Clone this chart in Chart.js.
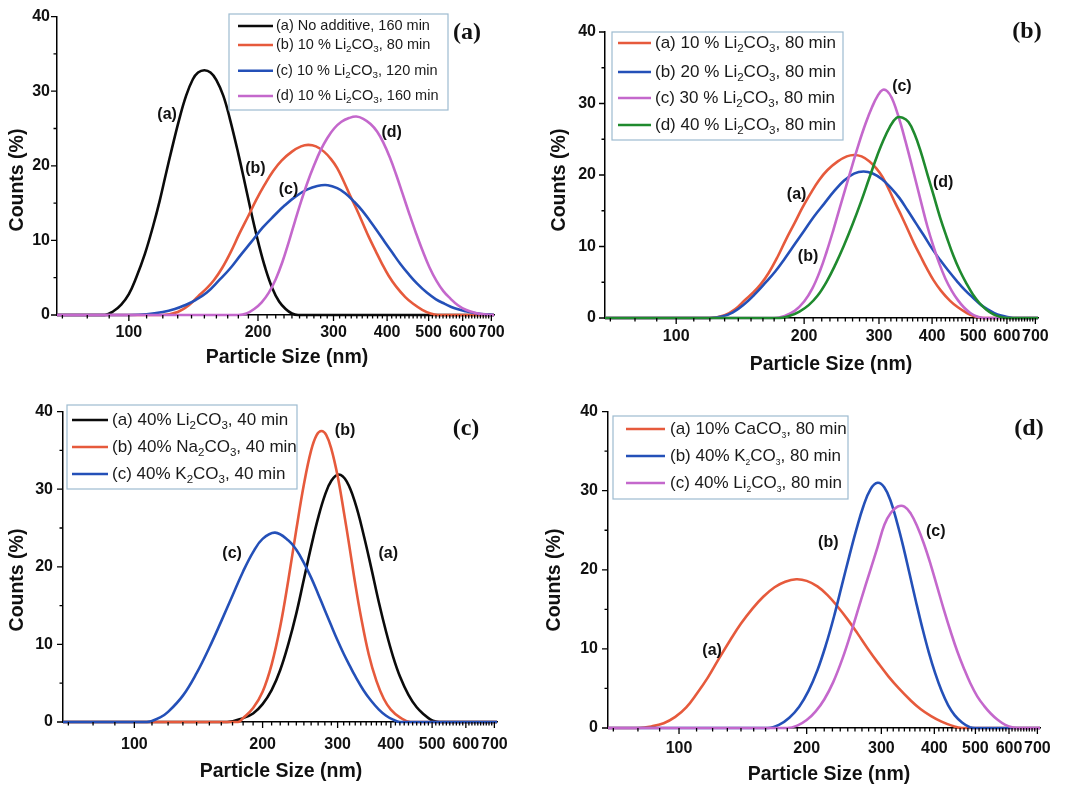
<!DOCTYPE html>
<html>
<head>
<meta charset="utf-8">
<script src="https://cdn.jsdelivr.net/npm/chart.js@4.4.1/dist/chart.umd.min.js"></script>
<style>
html, body { margin: 0; padding: 0; background: #fff; overflow: hidden; }
#wrap { position: relative; width: 1066px; height: 785px; overflow: hidden; }
.panel { position: absolute; }
</style>
</head>
<body>
<div id="wrap">
  <div class="panel" style="left:0;top:0"><canvas id="pa" width="533" height="392"></canvas></div>
  <div class="panel" style="left:533px;top:0"><canvas id="pb" width="533" height="392"></canvas></div>
  <div class="panel" style="left:0;top:392px"><canvas id="pc" width="533" height="400"></canvas></div>
  <div class="panel" style="left:533px;top:392px"><canvas id="pd" width="533" height="400"></canvas></div>
</div>
<script>
// axis ticks
const sizeTicks = [100, 200, 300, 400, 500, 600, 700]
const countTicks = [0, 10, 20, 30, 40]
const countMinor = [5, 15, 25, 35]

// panel (a) curves, [size nm, counts %]
const noAdd160 = [[68,0],[88,0],[92,0.5],[96,1.4],[100,2.8],[104,5.0],[109,8.2],[114,12.0],[118,15.3],[122,18.9],[126,22.3],[131,26.2],[136,29.4],[141,31.6],[145,32.5],[150,32.8],[155,32.5],[160,31.5],[166,29.4],[172,26.3],[180,21.6],[187,17.3],[194,13.1],[201,9.4],[208,6.3],[216,3.6],[224,1.8],[232,0.8],[240,0.2],[248,0],[710,0]]
const li10_80 = [[68,0],[120,0],[130,0.4],[138,1.3],[145,2.5],[152,3.6],[158,4.7],[165,6.3],[173,8.5],[181,10.9],[190,13.3],[198,15.4],[207,17.4],[217,19.3],[227,20.7],[240,21.9],[252,22.6],[262,22.8],[273,22.6],[285,21.9],[296,20.9],[306,19.7],[317,17.9],[328,16.0],[340,14.1],[351,12.3],[363,10.4],[376,8.6],[389,6.9],[403,5.3],[420,3.8],[441,2.4],[460,1.5],[483,0.7],[505,0.2],[525,0],[710,0]]
const li10_120 = [[68,0],[100,0],[110,0.1],[120,0.4],[128,0.8],[135,1.3],[143,2.0],[152,3.0],[162,4.6],[172,6.2],[182,8.0],[193,9.8],[205,11.7],[218,13.3],[231,14.7],[245,15.9],[260,16.8],[275,17.3],[291,17.4],[306,17.0],[320,16.3],[335,15.2],[350,14.0],[365,12.6],[380,11.2],[395,9.8],[412,8.3],[430,6.8],[450,5.4],[470,4.2],[495,3.0],[520,2.1],[545,1.5],[575,0.9],[610,0.5],[650,0.2],[690,0.05],[710,0]]
const li10_160 = [[68,0],[180,0],[188,0.2],[196,0.8],[204,1.7],[212,3.0],[220,4.8],[228,7.1],[236,9.8],[244,12.6],[252,15.2],[261,17.8],[270,20.0],[280,22.1],[290,23.7],[301,25.0],[313,25.9],[326,26.4],[339,26.6],[352,26.3],[366,25.6],[379,24.6],[392,23.1],[406,21.1],[420,18.8],[435,16.2],[451,13.5],[467,11.0],[484,8.6],[502,6.4],[521,4.6],[541,3.2],[562,2.2],[585,1.3],[610,0.7],[640,0.3],[670,0.1],[700,0],[710,0]]

// panel (b) curves
const li20_80 = [[68,0],[120,0],[128,0.2],[136,0.8],[145,2.0],[153,3.3],[162,4.9],[171,6.5],[180,8.3],[190,10.3],[200,12.2],[211,14.2],[223,16.0],[235,17.7],[248,19.2],[262,20.2],[276,20.5],[290,20.2],[305,19.4],[320,18.2],[335,16.8],[350,15.1],[366,13.3],[382,11.6],[400,9.7],[418,8.1],[437,6.6],[457,5.2],[478,3.9],[500,2.8],[522,1.8],[545,1.1],[570,0.5],[595,0.2],[620,0],[710,0]]
const li30_80 = [[68,0],[170,0],[180,0.3],[190,1.0],[200,2.3],[209,4.1],[218,6.6],[226,9.3],[234,12.2],[242,15.2],[251,18.4],[260,21.5],[269,24.4],[279,27.2],[289,29.5],[298,31.1],[306,31.9],[314,31.7],[322,30.7],[330,29.0],[338,27.0],[346,24.8],[356,22.0],[366,19.2],[378,15.9],[390,12.8],[403,10.0],[416,7.6],[430,5.5],[445,3.8],[460,2.5],[475,1.5],[492,0.7],[510,0.2],[530,0],[710,0]]
const li40_80 = [[68,0],[175,0],[185,0.3],[195,0.9],[205,1.8],[215,3.1],[226,5.1],[237,7.5],[248,10.1],[260,13.1],[272,16.2],[284,19.4],[295,22.2],[306,24.6],[318,26.7],[330,28.0],[341,28.0],[352,27.4],[364,25.7],[376,23.3],[390,20.1],[404,17.0],[418,14.0],[433,11.3],[449,8.7],[465,6.6],[482,4.8],[499,3.3],[517,2.1],[536,1.2],[558,0.5],[580,0.15],[600,0],[710,0]]

// panel (c) curves
const li40_40 = [[68,0],[165,0],[180,0.5],[190,1.1],[200,2.3],[210,4.1],[220,6.7],[230,10.1],[240,14.0],[250,18.4],[260,22.6],[270,26.3],[280,29.2],[290,31.1],[302,31.9],[315,31.0],[330,28.2],[345,24.2],[360,19.8],[375,15.4],[390,11.6],[405,8.4],[420,5.9],[440,3.5],[460,1.9],[480,0.9],[495,0.35],[510,0.05],[520,0],[710,0]]
const na40_40 = [[68,0],[175,0],[180,0.5],[190,1.8],[200,3.9],[210,7.4],[220,12.3],[230,18.4],[240,24.8],[250,30.6],[260,35.0],[268,37.0],[275,37.5],[282,37.0],[290,35.2],[300,31.7],[310,27.2],[320,22.5],[330,17.8],[340,13.7],[355,8.7],[370,5.3],[385,3.0],[400,1.6],[420,0.6],[445,0],[710,0]]
const k40_40 = [[68,0],[107,0],[115,0.6],[120,1.3],[130,3.4],[140,6.3],[150,9.6],[160,13.0],[170,16.3],[180,19.4],[190,21.9],[200,23.6],[214,24.4],[230,23.4],[240,22.2],[250,20.5],[260,18.6],[270,16.5],[280,14.4],[290,12.4],[300,10.5],[310,8.8],[320,7.3],[330,5.9],[345,4.1],[360,2.7],[375,1.6],[390,0.8],[405,0.3],[420,0],[710,0]]

// panel (d) curves
const ca10_80 = [[68,0],[80,0],[86,0.2],[92,0.6],[98,1.4],[104,2.6],[110,4.3],[117,6.4],[124,8.7],[132,11.1],[140,13.2],[149,15.1],[158,16.6],[168,17.8],[178,18.5],[189,18.8],[200,18.6],[212,17.9],[224,16.8],[237,15.3],[250,13.7],[264,11.9],[279,10.0],[295,8.2],[312,6.5],[330,5.0],[350,3.6],[371,2.4],[393,1.5],[416,0.8],[440,0.3],[465,0],[710,0]]
const k40_80 = [[68,0],[162,0],[172,0.4],[182,1.3],[192,2.7],[202,4.7],[212,7.3],[222,10.5],[232,14.1],[242,18.0],[252,21.7],[262,25.1],[272,28.0],[283,30.2],[294,31.0],[305,30.4],[316,28.6],[327,25.9],[338,22.9],[350,19.4],[362,16.0],[375,12.6],[388,9.6],[402,6.9],[416,4.7],[431,2.9],[447,1.6],[465,0.7],[485,0.1],[500,0],[710,0]]
const li40_80d = [[68,0],[180,0],[190,0.3],[200,1.0],[210,2.1],[220,3.6],[231,5.8],[243,8.8],[256,12.5],[269,16.3],[282,19.8],[294,22.9],[305,25.7],[316,27.2],[328,28.0],[340,28.0],[352,27.1],[365,25.4],[378,23.3],[392,20.7],[406,17.9],[421,15.0],[437,12.2],[453,9.7],[470,7.5],[487,5.6],[505,4.0],[524,2.8],[544,1.8],[565,1.0],[588,0.4],[610,0.1],[630,0],[710,0]]

const BLACK = "#0b0b0b", RED = "#e65a3c", BLUE = "#2450b8", PURPLE = "#c468cc", GREEN = "#1f8a2e"
const FONT = "'Liberation Sans', Arial, Helvetica, sans-serif"
const SERIF = "'Liberation Serif', 'Times New Roman', serif"
const SUBS = "₀₁₂₃₄₅₆₇₈₉"

Chart.defaults.font.family = FONT
Chart.defaults.color = "#111"

var sizeMinor = [70, 80, 90]
for (var v = 110; v < 700; v += 10) {
    if (v % 100) sizeMinor.push(v)
}

// split a label into normal / subscript runs
function text_runs(label) {
    var out = []
    for (const ch of label) {
        var i = SUBS.indexOf(ch)
        var sub = i >= 0
        var c = sub ? String(i) : ch
        var last = out[out.length - 1]
        if (last && last.sub == sub) {
            last.text += c
        } else {
            out.push({text: c, sub: sub})
        }
    }
    return out
}

const axisTicks = {
    id: "axisTicks",
    afterDraw(chart) {
        const ctx = chart.ctx
        const xs = chart.scales.x, ys = chart.scales.y
        const x0 = chart.chartArea.left, y0 = chart.chartArea.bottom
        ctx.save()
        ctx.strokeStyle = "#000"
        ctx.lineWidth = 1.3
        ctx.beginPath()
        sizeTicks.forEach(function (v) { var p = xs.getPixelForValue(v); ctx.moveTo(p, y0); ctx.lineTo(p, y0 + 6) })
        sizeMinor.forEach(function (v) { var p = xs.getPixelForValue(v); ctx.moveTo(p, y0); ctx.lineTo(p, y0 + 3.5) })
        countTicks.forEach(function (v) { var p = ys.getPixelForValue(v); ctx.moveTo(x0, p); ctx.lineTo(x0 - 6, p) })
        countMinor.forEach(function (v) { var p = ys.getPixelForValue(v); ctx.moveTo(x0, p); ctx.lineTo(x0 - 3.5, p) })
        ctx.stroke()
        ctx.restore()
    }
}

// axis titles, legend box, curve tags and panel letter
const decor = {
    id: "decor",
    afterDraw(chart, args, opts) {
        const ctx = chart.ctx
        const xs = chart.scales.x, ys = chart.scales.y
        ctx.save()
        ctx.textBaseline = "middle"
        ctx.textAlign = "center"
        ctx.fillStyle = "#111"

        ctx.font = "bold 19.5px " + FONT
        ctx.fillText("Particle Size (nm)", opts.xTitle[0], opts.xTitle[1])
        ctx.save()
        ctx.translate(opts.yTitle[0], opts.yTitle[1])
        ctx.rotate(-Math.PI / 2)
        ctx.fillText("Counts (%)", 0, 0)
        ctx.restore()

        ctx.font = "bold 16px " + FONT
        opts.tags.forEach(function (t) {
            ctx.fillText(t[0], xs.getPixelForValue(t[1]), ys.getPixelForValue(t[2]))
        })

        ctx.font = "bold " + opts.letterSize + "px " + SERIF
        ctx.fillText(opts.letter[0], opts.letter[1], opts.letter[2])

        const lg = opts.legend
        ctx.fillStyle = "#fff"
        ctx.fillRect(lg.box[0], lg.box[1], lg.box[2] - lg.box[0], lg.box[3] - lg.box[1])
        ctx.strokeStyle = "#9dbbd0"
        ctx.lineWidth = 1.2
        ctx.strokeRect(lg.box[0], lg.box[1], lg.box[2] - lg.box[0], lg.box[3] - lg.box[1])
        ctx.textAlign = "left"
        chart.data.datasets.forEach(function (ds, i) {
            var y = lg.rows[i]
            ctx.strokeStyle = ds.borderColor
            ctx.lineWidth = 2.6
            ctx.beginPath()
            ctx.moveTo(lg.line[0], y)
            ctx.lineTo(lg.line[1], y)
            ctx.stroke()
            var x = lg.textX
            ctx.fillStyle = "#1a1a1a"
            text_runs(ds.label).forEach(function (r) {
                var size = r.sub ? lg.size * lg.subScale : lg.size
                ctx.font = size + "px " + FONT
                ctx.fillText(r.text, x, r.sub ? y + lg.size * lg.drop : y)
                x += ctx.measureText(r.text).width
            })
        })
        ctx.restore()
    }
}

function make_panel(id, p) {
    const canvas = document.getElementById(id)
    new Chart(canvas, {
        type: "scatter",
        data: {
            datasets: p.series.map(function (s, i) {
                return {
                    label: s[0],
                    data: s[1].map(function (pt) { return {x: pt[0], y: pt[1]} }),
                    borderColor: s[2],
                    backgroundColor: s[2],
                    showLine: true,
                    borderWidth: 2.6,
                    pointRadius: 0,
                    tension: 0.4,
                    clip: false,
                    order: p.series.length - i
                }
            })
        },
        options: {
            responsive: false,
            animation: false,
            events: [],
            layout: {padding: {top: p.top, right: canvas.width - p.right, left: 0, bottom: 0}},
            scales: {
                x: {
                    type: "logarithmic",
                    min: 68,
                    max: 710,
                    afterBuildTicks: function (s) { s.ticks = sizeTicks.map(function (v) { return {value: v} }) },
                    afterFit: function (s) { s.height = canvas.height - p.bottom },
                    grid: {display: false, drawTicks: false},
                    border: {display: true, color: "#000", width: 1.5},
                    ticks: {
                        autoSkip: false, maxRotation: 0, padding: p.xPad, color: "#111",
                        font: {size: 16, weight: "bold"},
                        callback: function (v) { return String(v) }
                    }
                },
                y: {
                    min: 0,
                    max: 40,
                    afterBuildTicks: function (s) { s.ticks = countTicks.map(function (v) { return {value: v} }) },
                    afterFit: function (s) { s.width = p.left },
                    grid: {display: false, drawTicks: false},
                    border: {display: true, color: "#000", width: 1.5},
                    ticks: {padding: p.yPad, color: "#111", font: {size: 16, weight: "bold"}}
                }
            },
            plugins: {
                legend: {display: false},
                tooltip: {enabled: false},
                decor: {
                    tags: p.tags, letter: p.letter, letterSize: p.letterSize, legend: p.legend,
                    xTitle: p.xTitle, yTitle: p.yTitle
                }
            }
        },
        plugins: [axisTicks, decor]
    })
}

make_panel("pa", {
    left: 57, top: 15, right: 494, bottom: 315,
    xPad: 8, yPad: 7, xTitle: [287, 358], yTitle: [18, 180],
    series: [
        ["(a) No additive, 160 min", noAdd160, BLACK],
        ["(b) 10 % Li₂CO₃, 80 min", li10_80, RED],
        ["(c) 10 % Li₂CO₃, 120 min", li10_120, BLUE],
        ["(d) 10 % Li₂CO₃, 160 min", li10_160, PURPLE]
    ],
    tags: [["(a)", 122.8, 26.9], ["(b)", 197.3, 19.6], ["(c)", 235.7, 16.8], ["(d)", 409.8, 24.4]],
    letter: ["(a)", 467, 33], letterSize: 24,
    legend: {box: [229, 14, 448, 110], rows: [26, 45, 70.7, 96], line: [238, 273], textX: 276, size: 14.5, subScale: 0.68, drop: 0.32}
})

make_panel("pb", {
    left: 72, top: 32, right: 505, bottom: 318,
    xPad: 9, yPad: 9, xTitle: [298, 365], yTitle: [27, 180],
    series: [
        ["(a) 10 % Li₂CO₃, 80 min", li10_80, RED],
        ["(b) 20 % Li₂CO₃, 80 min", li20_80, BLUE],
        ["(c) 30 % Li₂CO₃, 80 min", li30_80, PURPLE],
        ["(d) 40 % Li₂CO₃, 80 min", li40_80, GREEN]
    ],
    tags: [["(a)", 192, 17.2], ["(b)", 204.3, 8.6], ["(c)", 339.7, 32.4], ["(d)", 424.7, 18.9]],
    letter: ["(b)", 494, 32], letterSize: 24,
    legend: {box: [79, 32, 310, 140], rows: [43, 72, 98, 125], line: [85, 118], textX: 122, size: 17, subScale: 0.68, drop: 0.32}
})

make_panel("pc", {
    left: 63, top: 10, right: 497, bottom: 330,
    xPad: 12.5, yPad: 10, xTitle: [281, 380], yTitle: [18, 188],
    series: [
        ["(a) 40% Li₂CO₃, 40 min", li40_40, BLACK],
        ["(b) 40% Na₂CO₃, 40 min", na40_40, RED],
        ["(c) 40% K₂CO₃, 40 min", k40_40, BLUE]
    ],
    tags: [["(a)", 394.6, 21.7], ["(b)", 312.3, 37.5], ["(c)", 169.6, 21.7]],
    letter: ["(c)", 466, 37], letterSize: 24,
    legend: {box: [67, 13, 297, 97], rows: [28, 55, 82], line: [72, 108], textX: 112, size: 17, subScale: 0.68, drop: 0.32}
})

make_panel("pd", {
    left: 75, top: 12, right: 507, bottom: 336,
    xPad: 10.5, yPad: 10, xTitle: [296, 383], yTitle: [22, 188],
    series: [
        ["(a) 10% CaCO₃, 80 min", ca10_80, RED],
        ["(b) 40% K₂CO₃, 80 min", k40_80, BLUE],
        ["(c) 40% Li₂CO₃, 80 min", li40_80d, PURPLE]
    ],
    tags: [["(a)", 119.7, 9.8], ["(b)", 224.9, 23.4], ["(c)", 403, 24.8]],
    letter: ["(d)", 496, 37], letterSize: 24,
    legend: {box: [80, 24, 315, 107], rows: [37, 64, 91], line: [93, 132], textX: 137, size: 17, subScale: 0.5, drop: 0.42}
})
</script>
</body>
</html>
